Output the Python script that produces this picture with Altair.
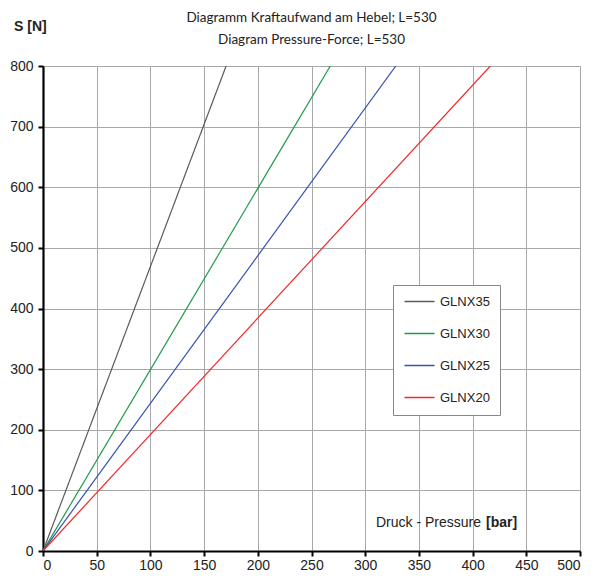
import altair as alt
import pandas as pd

series = ["GLNX35", "GLNX30", "GLNX25", "GLNX20"]
colors = ["#5a5a5a", "#1f9a4a", "#3550b0", "#f02828"]
# pressure [bar] at which each line reaches 800 N (lines start at origin)
x_end = [170.5, 267.5, 328.5, 416.5]
y_end = [800, 800, 800, 800]

x_ticks = list(range(0, 501, 50))
y_ticks = list(range(0, 801, 100))

title_lines = ["Diagramm Kraftaufwand am Hebel; L=530", "Diagram Pressure-Force; L=530"]

rows = []
for s, xe, ye in zip(series, x_end, y_end):
    rows.append({"series": s, "p": 0, "s": 0})
    rows.append({"series": s, "p": xe, "s": ye})
df = pd.DataFrame(rows)

FONT = "Liberation Sans"
W, H = 537, 485

axis_common = dict(title=None, grid=True, gridColor="#a8a8a8", gridWidth=1,
                   domainColor="#000", domainWidth=2.2, tickColor="#000",
                   tickWidth=2, tickSize=5, labelFont=FONT, labelFontSize=14,
                   labelColor="#222")

lines = alt.Chart(df).mark_line(strokeWidth=1.2, clip=True).encode(
    x=alt.X("p:Q", scale=alt.Scale(domain=[0, 500], nice=False),
            axis=alt.Axis(values=x_ticks, labelPadding=2, **axis_common)),
    y=alt.Y("s:Q", scale=alt.Scale(domain=[0, 800], nice=False),
            axis=alt.Axis(values=y_ticks, labelPadding=5, **axis_common)),
    color=alt.Color("series:N", scale=alt.Scale(domain=series, range=colors),
                    sort=series,
                    legend=alt.Legend(title=None, orient="none", legendX=350, legendY=219,
                                      symbolType="M-1,0L5,0", symbolSize=100,
                                      symbolStrokeWidth=1.5, padding=10, rowPadding=18,
                                      strokeColor="#888", fillColor="#fff",
                                      labelFont=FONT, labelFontSize=13,
                                      labelColor="#222", labelOffset=24)),
)

t1 = alt.Chart(pd.DataFrame({"t": [title_lines[0]]})).mark_text(
    font="Lato", fontSize=13.5, align="center", baseline="middle", color="#222"
).encode(text="t:N", x=alt.value(W / 2), y=alt.value(-48))

t2 = alt.Chart(pd.DataFrame({"t": [title_lines[1]]})).mark_text(
    font="Lato", fontSize=13.5, align="center", baseline="middle", color="#222"
).encode(text="t:N", x=alt.value(W / 2), y=alt.value(-26))

ylab = alt.Chart(pd.DataFrame({"t": ["S [N]"]})).mark_text(
    font=FONT, fontSize=14, fontWeight="bold", align="left", baseline="middle", color="#222"
).encode(text="t:N", x=alt.value(-29), y=alt.value(-39))

xlab1 = alt.Chart(pd.DataFrame({"t": ["Druck - Pressure"]})).mark_text(
    font=FONT, fontSize=14, align="right", baseline="middle", color="#222"
).encode(text="t:N", x=alt.value(438), y=alt.value(457))

xlab2 = alt.Chart(pd.DataFrame({"t": ["[bar]"]})).mark_text(
    font=FONT, fontSize=14, fontWeight="bold", align="left", baseline="middle", color="#222"
).encode(text="t:N", x=alt.value(443), y=alt.value(457))

chart = alt.layer(lines, t1, t2, ylab, xlab1, xlab2).properties(
    width=W, height=H,
    padding={"left": 35, "top": 58, "right": 5, "bottom": 20},
    autosize=alt.AutoSizeParams(type="none"),
).configure_view(stroke="#999", strokeWidth=1).configure(background="white")

chart.save("out.html", embed_options={"renderer": "svg", "actions": False})
